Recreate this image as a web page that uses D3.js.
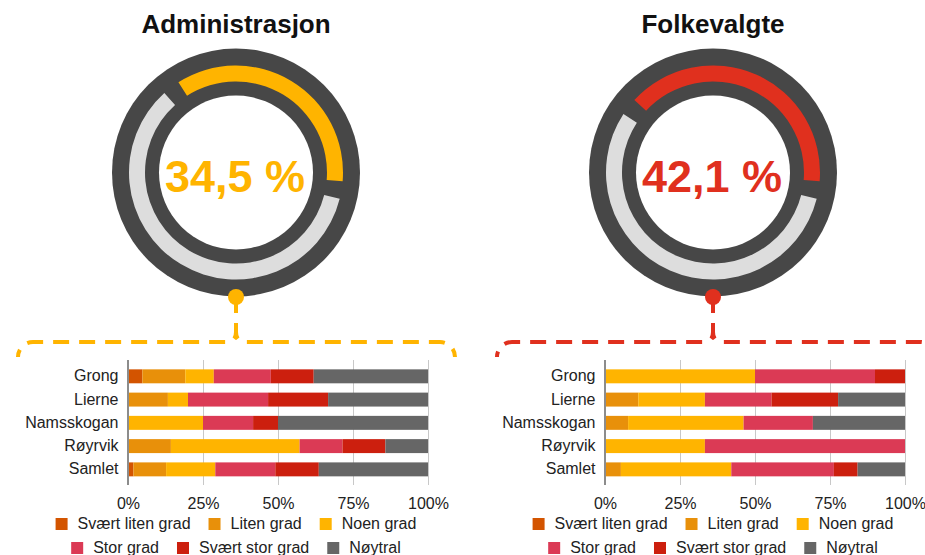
<!DOCTYPE html>
<html>

<head>
    <meta charset="utf-8">
    <script src="https://d3js.org/d3.v7.min.js"></script>
    <style type="text/css">
        body {
            margin: 0;
            background: white;
        }

        text {
            font-family: "Liberation Sans", Arial, sans-serif;
        }

        .title {
            font-size: 26px;
            font-weight: bold;
            fill: #111;
        }

        .share {
            font-size: 45px;
            font-weight: bold;
        }

        .grid line {
            stroke: #c8c8c8;
            stroke-width: 1;
        }

        .grid text,
        .cats text,
        .legend text {
            font-size: 16px;
            fill: #222;
        }
    </style>
</head>

<body>
    <div id="chart"></div>
    <script>

        // panels
        const titles = ["Administrasjon", "Folkevalgte"];
        const shareLabels = ["34,5 %", "42,1 %"];
        const ringShare = [0.38, 0.421];
        const accents = ["#FFB400", "#E0301E"];

        // bars
        const categories = ["Grong", "Lierne", "Namsskogan", "Røyrvik", "Samlet"];
        const keys = ["Svært liten grad", "Liten grad", "Noen grad", "Stor grad", "Svært stor grad", "Nøytral"];
        const colors = ["#D35400", "#E8900A", "#FFB400", "#DB3A55", "#CC1F0E", "#666666"];
        const xTicks = [0, 0.25, 0.5, 0.75, 1];

        // percent per category, same order as keys
        const adminValues = [
            [4.8, 14.3, 9.5, 19.0, 14.3, 38.1],
            [0, 13.3, 6.7, 26.7, 20.0, 33.3],
            [0, 0, 25.0, 16.7, 8.3, 50.0],
            [0, 14.3, 42.9, 14.3, 14.3, 14.2],
            [1.8, 10.9, 16.4, 20.0, 14.5, 36.4]
        ];
        const folkValues = [
            [0, 0, 50.0, 40.0, 10.0, 0],
            [0, 11.1, 22.2, 22.2, 22.2, 22.3],
            [0, 7.7, 38.5, 23.1, 0, 30.7],
            [0, 0, 33.3, 66.7, 0, 0],
            [0, 5.3, 36.8, 34.2, 7.9, 15.8]
        ];

        const W = 925, H = 555;
        const cy = 172.5;
        const layout = [
            { cx: 236, x0: 128, x1: 428, b0: 18, b1: 455, values: adminValues },
            { cx: 713, x0: 605, x1: 905, b0: 497, b1: 935, values: folkValues }
        ];

        const svg = d3.select("#chart")
            .append("svg")
            .attr("width", W)
            .attr("height", H);

        const deg = Math.PI / 180;
        const gapEnd = 99.5 * deg;   // middle of the gap on the right side
        const gap = 9.5 * deg;

        const track = d3.arc().innerRadius(91).outerRadius(107);
        const color = d3.scaleOrdinal().domain(keys).range(colors);

        layout.forEach((p, i) => {
            const g = svg.append("g");

            // title
            g.append("text")
                .attr("class", "title")
                .attr("x", p.cx)
                .attr("y", 33)
                .attr("text-anchor", "middle")
                .text(titles[i]);

            // ring
            const ring = g.append("g").attr("transform", `translate(${p.cx},${cy})`);
            ring.append("circle").attr("r", 124).attr("fill", "#474747");
            ring.append("circle").attr("r", 77).attr("fill", "white");

            const share = ringShare[i];
            ring.append("path")
                .attr("fill", "#DDDDDD")
                .attr("d", track({
                    startAngle: gapEnd + gap / 2,
                    endAngle: gapEnd + (1 - share) * 2 * Math.PI - gap / 2
                }));
            ring.append("path")
                .attr("fill", accents[i])
                .attr("d", track({
                    startAngle: gapEnd - share * 2 * Math.PI + gap / 2,
                    endAngle: gapEnd - gap / 2
                }));

            ring.append("text")
                .attr("class", "share")
                .attr("x", -1)
                .attr("y", 19)
                .attr("text-anchor", "middle")
                .attr("fill", accents[i])
                .text(shareLabels[i]);

            // dashed bracket down to the bars
            const hy = 342, ey = 357, r = 15;
            const left = `M${p.cx},297 V332 Q${p.cx},${hy} ${p.cx - 10},${hy} H${p.b0 + r} A${r},${r} 0 0 0 ${p.b0},${ey}`;
            const right = `M${p.cx},297 V332 Q${p.cx},${hy} ${p.cx + 10},${hy} H${p.b1 - r} A${r},${r} 0 0 1 ${p.b1},${ey}`;
            [left, right].forEach(d => {
                g.append("path")
                    .attr("d", d)
                    .attr("fill", "none")
                    .attr("stroke", accents[i])
                    .attr("stroke-width", 4)
                    .attr("stroke-dasharray", "16 10");
            });
            g.append("circle")
                .attr("cx", p.cx)
                .attr("cy", 297)
                .attr("r", 8)
                .attr("fill", accents[i]);

            // stacked bars
            const x = d3.scaleLinear().domain([0, 1]).range([p.x0, p.x1]);
            const y = d3.scaleBand()
                .domain(categories)
                .range([364.7, 481])
                .paddingInner(0.4)
                .paddingOuter(0.2);

            const rows = categories.map((c, j) => {
                const row = { cat: c };
                keys.forEach((k, n) => row[k] = p.values[j][n] / 100);
                return row;
            });
            const stacked = d3.stack().keys(keys)(rows);

            g.append("g")
                .attr("class", "grid")
                .attr("transform", `translate(0,485)`)
                .call(d3.axisBottom(x)
                    .tickValues(xTicks)
                    .tickFormat(d3.format(".0%"))
                    .tickSize(-125)
                    .tickPadding(13))
                .call(a => a.select(".domain").remove());

            g.append("g")
                .selectAll("g")
                .data(stacked)
                .join("g")
                .attr("fill", d => color(d.key))
                .selectAll("rect")
                .data(d => d)
                .join("rect")
                .attr("x", d => x(d[0]))
                .attr("y", d => y(d.data.cat))
                .attr("width", d => x(d[1]) - x(d[0]))
                .attr("height", y.bandwidth());

            g.append("line")
                .attr("x1", x(0)).attr("x2", x(0))
                .attr("y1", 360).attr("y2", 485)
                .attr("stroke", "#8c8c8c")
                .attr("stroke-width", 2);

            g.append("g")
                .attr("class", "cats")
                .attr("transform", `translate(${x(0)},0)`)
                .call(d3.axisLeft(y).tickSize(0).tickPadding(9.5))
                .call(a => a.select(".domain").remove());

            // legend, two centred rows
            const legend = g.append("g").attr("class", "legend");
            [[0, 3], [3, 6]].forEach(([from, to], r) => {
                const rowG = legend.append("g");
                let cur = 0;
                keys.slice(from, to).forEach(k => {
                    const item = rowG.append("g").attr("transform", `translate(${cur},0)`);
                    item.append("rect")
                        .attr("width", 12)
                        .attr("height", 12)
                        .attr("y", -11)
                        .attr("fill", color(k));
                    const t = item.append("text")
                        .attr("x", 22)
                        .text(k);
                    cur += 22 + t.node().getComputedTextLength() + 18;
                });
                const total = cur - 18;
                rowG.attr("transform", `translate(${p.cx - total / 2},${529 + r * 24})`);
            });
        });

    </script>
</body>

</html>
